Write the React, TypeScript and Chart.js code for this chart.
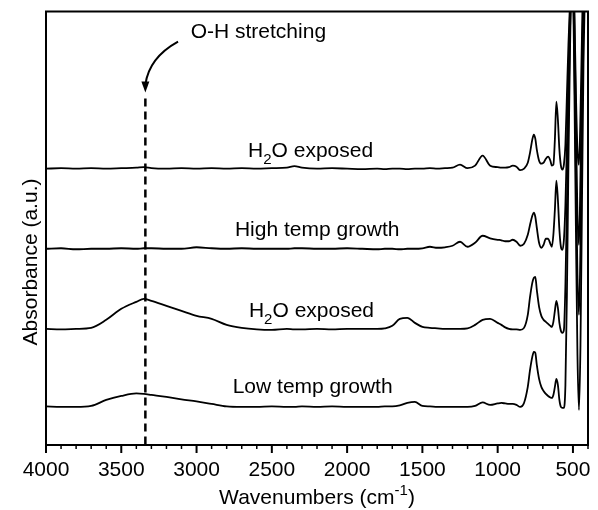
import React, { useEffect, useRef } from 'react';
import { Chart, registerables } from 'chart.js';

Chart.register(...registerables);

// Wavenumber grid (cm-1), shared by all spectra
const wavenumbers = [
  4000, 3900, 3800, 3700, 3600, 3500, 3400, 3350, 3300, 3200, 3100, 3000, 2900, 2800, 2700, 2600,
  2500, 2400, 2350, 2300, 2200, 2100, 2000, 1900, 1800, 1750, 1700, 1650, 1600, 1550, 1500, 1450,
  1400, 1350, 1300, 1250, 1200, 1150, 1100, 1050, 1000, 975, 950, 925, 900, 875, 850, 825, 800,
  785, 770, 760, 750, 740, 725, 710, 695, 680, 665, 650, 640, 630, 620, 610, 600, 590, 580, 570,
  560, 550, 540, 530, 520, 510, 500, 490, 480, 470, 460, 450, 440, 430, 420, 410, 400,
];

// Top: H2O exposed (after high temp growth)
const h2oExposedHigh = [
  2.76, 2.765, 2.76, 2.765, 2.76, 2.765, 2.77, 2.775, 2.765, 2.76, 2.765, 2.76, 2.765, 2.76, 2.765, 2.76,
  2.765, 2.77, 2.785, 2.77, 2.76, 2.765, 2.76, 2.755, 2.76, 2.755, 2.76, 2.76, 2.755, 2.76, 2.76, 2.765,
  2.76, 2.765, 2.77, 2.8, 2.765, 2.79, 2.89, 2.79, 2.775, 2.77, 2.77, 2.775, 2.79, 2.78, 2.745, 2.76, 2.82,
  2.92, 3.05, 3.1, 3.06, 2.95, 2.84, 2.81, 2.82, 2.86, 2.88, 2.84, 2.79, 2.8, 3.05, 3.43, 3.25, 2.95, 2.79, 2.75,
  2.8, 3.0, 3.5, 4.0, 4.4, 4.8, 4.8, 4.3, 3.5, 2.95, 2.8, 3.3, 4.1, 4.8, 4.9, 4.9, 4.9,
];

// High temp growth
const highTempGrowth = [
  1.96, 1.965, 1.955, 1.96, 1.96, 1.965, 1.96, 1.965, 1.965, 1.96, 1.96, 1.975, 1.965, 1.96, 1.965, 1.96,
  1.96, 1.96, 1.965, 1.965, 1.96, 1.96, 1.965, 1.96, 1.955, 1.96, 1.96, 1.955, 1.96, 1.96, 1.965, 1.98,
  1.97, 1.975, 1.99, 2.03, 1.98, 2.02, 2.09, 2.065, 2.05, 2.045, 2.035, 2.035, 2.05, 2.03, 1.99, 2.01, 2.1,
  2.2, 2.29, 2.32, 2.28, 2.17, 2.02, 1.97, 2.0, 2.06, 2.06, 2.01, 1.98, 2.1, 2.35, 2.64, 2.45, 2.15, 1.98, 1.95,
  2.05, 2.4, 3.0, 3.7, 4.3, 4.8, 4.8, 4.2, 3.2, 2.3, 2.0, 2.7, 3.7, 4.6, 4.9, 4.9, 4.9,
];

// H2O exposed (after low temp growth)
const h2oExposedLow = [
  1.16, 1.155, 1.16, 1.17, 1.25, 1.36, 1.43, 1.46, 1.44, 1.39, 1.34, 1.29, 1.26, 1.2, 1.17, 1.155,
  1.15, 1.16, 1.155, 1.155, 1.16, 1.155, 1.16, 1.16, 1.16, 1.165, 1.19, 1.26, 1.27, 1.22, 1.18, 1.17,
  1.165, 1.16, 1.16, 1.16, 1.165, 1.2, 1.25, 1.26, 1.22, 1.2, 1.175, 1.16, 1.155, 1.155, 1.15, 1.17, 1.3,
  1.48, 1.62, 1.67, 1.68, 1.55, 1.38, 1.29, 1.25, 1.23, 1.21, 1.19, 1.18, 1.23, 1.34, 1.44, 1.37, 1.22, 1.14, 1.12,
  1.15, 1.6, 2.4, 3.3, 4.1, 4.6, 4.6, 3.8, 2.7, 1.7, 1.3, 2.0, 3.2, 4.3, 4.8, 4.8, 4.8,
];

// Low temp growth
const lowTempGrowth = [
  0.385, 0.38, 0.38, 0.39, 0.45, 0.49, 0.515, 0.51, 0.5, 0.48, 0.455, 0.435, 0.41, 0.385, 0.38, 0.38,
  0.385, 0.38, 0.38, 0.385, 0.38, 0.385, 0.38, 0.38, 0.38, 0.385, 0.385, 0.395, 0.42, 0.43, 0.39, 0.385,
  0.38, 0.38, 0.38, 0.38, 0.38, 0.39, 0.425, 0.4, 0.415, 0.42, 0.415, 0.41, 0.41, 0.4, 0.38, 0.42, 0.58,
  0.75, 0.88, 0.93, 0.92, 0.8, 0.66, 0.58, 0.54, 0.51, 0.49, 0.475, 0.47, 0.5, 0.58, 0.66, 0.6, 0.45, 0.38, 0.37,
  0.37, 0.6, 1.5, 2.8, 3.9, 4.5, 4.5, 3.5, 2.1, 0.9, 0.35, 1.0, 2.4, 3.8, 4.6, 4.8, 4.8,
];

const xTickValues = [4000, 3500, 3000, 2500, 2000, 1500, 1000, 500];
const minorTickValues = [
  3900, 3800, 3700, 3600, 3400, 3300, 3200, 3100, 2900, 2800, 2700, 2600, 2400, 2300, 2200, 2100,
  1900, 1800, 1700, 1600, 1400, 1300, 1200, 1100, 900, 800, 700, 600, 400,
];

type Part = { t: string; sub?: boolean; sup?: boolean };

const curveLabelTexts: Part[][] = [
  [{ t: 'H' }, { t: '2', sub: true }, { t: 'O exposed' }],
  [{ t: 'High temp growth' }],
  [{ t: 'H' }, { t: '2', sub: true }, { t: 'O exposed' }],
  [{ t: 'Low temp growth' }],
];
const curveLabelWn = [2658, 2745, 2652, 2760];
const curveLabelY = [2.877, 2.083, 1.283, 0.523];

const ohLabel = 'O-H stretching';
const ohLabelWn = 3039;
const ohLabelY = 4.067;
const ohLineWn = 3340;
const ohLineTopY = 3.46;
const arrowStart = { wn: 3123, y: 4.03 };
const arrowCtrl = { wn: 3316, y: 3.87 };
const arrowEnd = { wn: 3340, y: 3.52 };

const xTitleParts: Part[] = [{ t: 'Wavenumbers (cm' }, { t: '-1', sup: true }, { t: ')' }];
const yTitle = 'Absorbance (a.u.)';

const FONT = '"Liberation Sans", Arial, Helvetica, sans-serif';
const FS = 21;

function drawRich(ctx: CanvasRenderingContext2D, parts: Part[], x: number, y: number, align: 'left' | 'center') {
  const widths = parts.map((p) => {
    ctx.font = `${p.sub || p.sup ? 15 : FS}px ${FONT}`;
    return ctx.measureText(p.t).width;
  });
  const total = widths.reduce((a, b) => a + b, 0);
  let cx = align === 'center' ? x - total / 2 : x;
  ctx.textAlign = 'left';
  ctx.textBaseline = 'alphabetic';
  parts.forEach((p, i) => {
    ctx.font = `${p.sub || p.sup ? 15 : FS}px ${FONT}`;
    const dy = p.sub ? 7 : p.sup ? -9 : 0;
    ctx.fillText(p.t, cx, y + dy);
    cx += widths[i];
  });
}

const decorPlugin = {
  id: 'decor',
  afterDraw(chart: any) {
    const { ctx, chartArea } = chart;
    const xs = chart.scales.x;
    const ys = chart.scales.y;
    const { left, right, top, bottom } = chartArea;
    ctx.save();
    ctx.fillStyle = '#000';
    ctx.strokeStyle = '#000';

    // frame
    ctx.lineWidth = 2;
    ctx.setLineDash([]);
    ctx.strokeRect(left, top, right - left, bottom - top);

    // ticks
    xTickValues.forEach((v) => {
      const px = xs.getPixelForValue(v);
      ctx.lineWidth = 2;
      ctx.beginPath();
      ctx.moveTo(px, bottom);
      ctx.lineTo(px, bottom + 8);
      ctx.stroke();
    });
    minorTickValues.forEach((v) => {
      const px = xs.getPixelForValue(v);
      ctx.lineWidth = 1.5;
      ctx.beginPath();
      ctx.moveTo(px, bottom);
      ctx.lineTo(px, bottom + 4);
      ctx.stroke();
    });

    // dashed O-H line
    const lx = xs.getPixelForValue(ohLineWn);
    ctx.lineWidth = 2.5;
    ctx.setLineDash([8, 5]);
    ctx.beginPath();
    ctx.moveTo(lx, ys.getPixelForValue(ohLineTopY));
    ctx.lineTo(lx, bottom);
    ctx.stroke();
    ctx.setLineDash([]);

    // curved arrow
    const sx = xs.getPixelForValue(arrowStart.wn);
    const sy = ys.getPixelForValue(arrowStart.y);
    const qx = xs.getPixelForValue(arrowCtrl.wn);
    const qy = ys.getPixelForValue(arrowCtrl.y);
    const ex = xs.getPixelForValue(arrowEnd.wn);
    const ey = ys.getPixelForValue(arrowEnd.y);
    ctx.lineWidth = 2;
    ctx.beginPath();
    ctx.moveTo(sx, sy);
    ctx.quadraticCurveTo(qx, qy, ex, ey - 8);
    ctx.stroke();
    ctx.beginPath();
    ctx.moveTo(ex, ey);
    ctx.lineTo(ex - 4, ey - 11);
    ctx.lineTo(ex + 4, ey - 11);
    ctx.closePath();
    ctx.fill();

    // O-H label
    ctx.font = `${FS}px ${FONT}`;
    ctx.textAlign = 'left';
    ctx.textBaseline = 'alphabetic';
    ctx.fillText(ohLabel, xs.getPixelForValue(ohLabelWn), ys.getPixelForValue(ohLabelY));

    // curve labels
    curveLabelTexts.forEach((parts, i) => {
      drawRich(ctx, parts, xs.getPixelForValue(curveLabelWn[i]), ys.getPixelForValue(curveLabelY[i]), 'left');
    });

    // axis titles
    drawRich(ctx, xTitleParts, (left + right) / 2, 504, 'center');
    ctx.save();
    ctx.translate(31, 262);
    ctx.rotate(-Math.PI / 2);
    ctx.font = `${FS}px ${FONT}`;
    ctx.textAlign = 'center';
    ctx.textBaseline = 'middle';
    ctx.fillText(yTitle, 0, 0);
    ctx.restore();

    ctx.restore();
  },
};

export default function App() {
  const ref = useRef<HTMLCanvasElement>(null);
  useEffect(() => {
    const canvas = ref.current;
    if (!canvas) return;
    const mk = (vals: number[]) => wavenumbers.map((x, i) => ({ x, y: vals[i] }));
    const ds = (label: string, vals: number[]) => ({
      label,
      data: mk(vals),
      borderColor: '#000',
      borderWidth: 1.8,
      pointRadius: 0,
      fill: false,
      cubicInterpolationMode: 'monotone' as const,
    });
    const chart = new Chart(canvas, {
      type: 'line',
      data: {
        datasets: [
          ds('H2O exposed (high)', h2oExposedHigh),
          ds('High temp growth', highTempGrowth),
          ds('H2O exposed (low)', h2oExposedLow),
          ds('Low temp growth', lowTempGrowth),
        ],
      },
      options: {
        responsive: false,
        devicePixelRatio: 1,
        animation: false,
        layout: { padding: { left: 46, right: 10, top: 11.5, bottom: 0 } },
        plugins: { legend: { display: false }, tooltip: { enabled: false } },
        scales: {
          x: {
            type: 'linear',
            reverse: true,
            min: 400,
            max: 4000,
            grid: { display: false, drawTicks: false },
            border: { display: false },
            afterBuildTicks: (scale: any) => {
              scale.ticks = xTickValues.map((v) => ({ value: v }));
            },
            afterFit: (scale: any) => {
              scale.height = 65;
              scale.paddingLeft = 0;
              scale.paddingRight = 0;
            },
            ticks: {
              color: '#000',
              font: { family: FONT, size: FS },
              padding: 13,
              maxRotation: 0,
              autoSkip: false,
              callback: (v: any) => String(v),
            },
          },
          y: {
            display: false,
            min: 0,
            max: 4.33,
          },
        },
      },
      plugins: [decorPlugin],
    });
    return () => chart.destroy();
  }, []);
  return (
    <div style={{ position: 'fixed', left: 0, top: 0, width: 598, height: 510, background: '#fff' }}>
      <canvas ref={ref} width={598} height={510} style={{ display: 'block', width: 598, height: 510 }} />
    </div>
  );
}
